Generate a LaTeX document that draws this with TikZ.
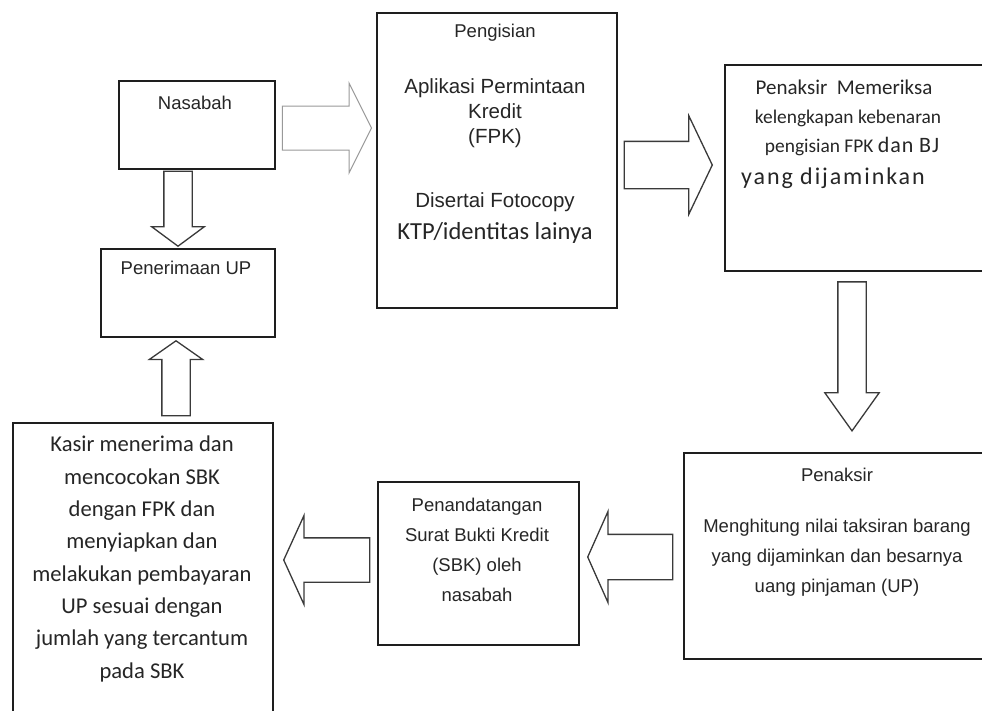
\documentclass[tikz,border=0pt]{standalone}
\usepackage{fontspec}
\setmainfont{Liberation Sans}
\newfontfamily\calfont{Carlito}
\newfontfamily\calwideA[LetterSpace=4]{Carlito}
\newfontfamily\calwideB[LetterSpace=8]{Carlito}
\usetikzlibrary{shapes.arrows}
\definecolor{txtcol}{HTML}{262626}
\definecolor{boxcol}{HTML}{1E1E1E}
\definecolor{arrcol}{HTML}{3A3A3A}
\begin{document}
\begin{tikzpicture}[x=1pt,y=-1pt,
  box/.style={draw=boxcol, line width=1.8pt, anchor=north west, inner sep=0pt},
  txt/.style={text=txtcol, inner sep=0pt, align=center, font=\fontsize{18.5}{30}\selectfont},
  barrow/.style n args={4}{single arrow, draw=arrcol, line width=1.3pt, fill=white,
    minimum height=#1, inner xsep=0pt, inner ysep=#2,
    single arrow head extend=#3, single arrow tip angle=#4}]
\clip (0,0) rectangle (982,710);
\fill[white] (0,0) rectangle (982,710);

% boxes
\node[box, minimum width=156pt, minimum height=88pt]  (nas) at (118,80) {};
\node[box, minimum width=174pt, minimum height=88pt]  (pen) at (100,248) {};
\node[box, minimum width=240pt, minimum height=295pt] (pgs) at (376,12) {};
\node[box, minimum width=272pt, minimum height=206pt] (pm)  at (724,64) {};
\node[box, minimum width=312pt, minimum height=206pt] (pk)  at (683,452) {};
\node[box, minimum width=201pt, minimum height=163pt] (ptd) at (377,481) {};
\node[box, minimum width=260pt, minimum height=300pt] (ks)  at (12,422) {};

% texts
\node[txt] (tnas) at (195,103) {Nasabah};
\node[txt] (tpen) at (186,268) {Penerimaan UP};
\node[txt] (tpg1) at (495,33) {Pengisian};
\node[txt, font=\fontsize{20.5}{25}\selectfont] (tpg2) at (495,113) {Aplikasi Permintaan\\Kredit\\(FPK)};
\node[txt, font=\fontsize{20.5}{25}\selectfont] (tpg3) at (495,202) {Disertai Fotocopy};
\node[txt, font=\calfont\fontsize{24.5}{28}\selectfont] (tpg4) at (495,233) {KTP/identitas lainya};

\node[txt, font=\calfont\fontsize{21}{25}\selectfont] (tpm1) at (844,87) {Penaksir\ \ Memeriksa};
\node[txt, font=\calfont\fontsize{19.4}{25}\selectfont] (tpm2) at (848,118) {kelengkapan kebenaran};
\node[txt, font=\calfont\fontsize{19.4}{25}\selectfont] (tpm3) at (852,147) {pengisian FPK {\calwideA\fontsize{22}{25}\selectfont dan BJ}};
\node[txt, font=\calwideB\fontsize{24}{28}\selectfont] (tpm4) at (833,178) {yang dijaminkan};

\node[txt] (tpk1) at (837,475) {Penaksir};
\node[txt] (tpk2) at (837,558) {Menghitung nilai taksiran barang\\yang dijaminkan dan besarnya\\uang pinjaman (UP)};

\node[txt] (tptd) at (477,550) {Penandatangan\\Surat Bukti Kredit\\(SBK) oleh\\nasabah};

\node[txt, font=\calfont\fontsize{22.6}{32.3}\selectfont] (tks) at (142,559)
  {Kasir menerima dan\\mencocokan SBK\\dengan FPK dan\\menyiapkan dan\\melakukan pembayaran\\UP sesuai dengan\\jumlah yang tercantum\\pada SBK};

% block arrows
\node[barrow={89pt}{21.5pt}{23pt}{127}, draw=black!40, line width=1pt, anchor=tip] (a1) at (372,128) {};
\node[barrow={75pt}{13.5pt}{12pt}{107}, rotate=-90, anchor=tip] (a2) at (178,247) {};
\node[barrow={88pt}{23pt}{25.5pt}{129}, anchor=tip] (a3) at (713,165) {};
\node[barrow={149pt}{13.5pt}{13pt}{71}, rotate=-90, anchor=tip] (a4) at (852,432) {};
\node[barrow={85pt}{22pt}{23pt}{132}, rotate=180, anchor=tip] (a5) at (587,557) {};
\node[barrow={86pt}{21.5pt}{22.5pt}{131}, rotate=180, anchor=tip] (a6) at (283,560) {};
\node[barrow={75pt}{13.5pt}{12.5pt}{110}, rotate=90, anchor=tip] (a7) at (176,340) {};
\end{tikzpicture}
\end{document}
